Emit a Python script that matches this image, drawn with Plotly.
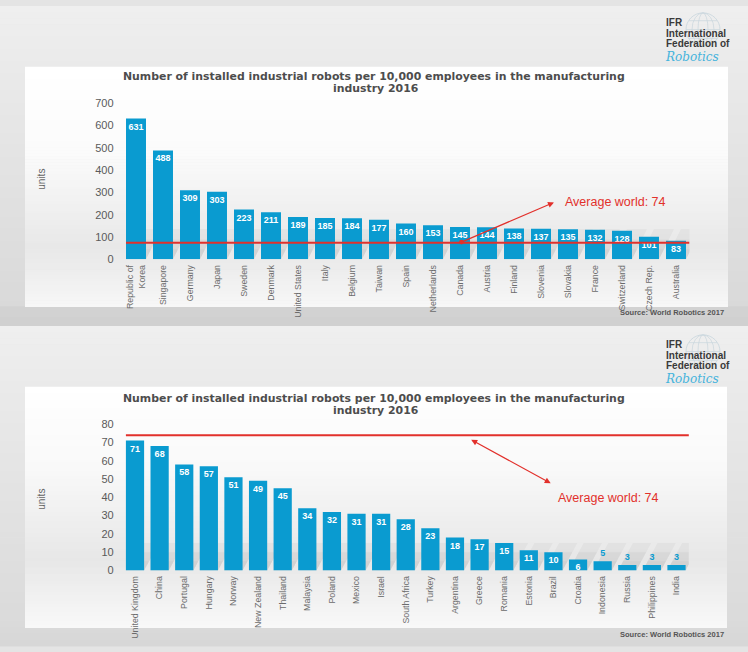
import plotly.graph_objects as go

# ---------------------------------------------------------------- data
top_countries = ["Republic of<br>Korea", "Singapore", "Germany", "Japan", "Sweden", "Denmark",
                 "United States", "Italy", "Belgium", "Taiwan", "Spain", "Netherlands", "Canada",
                 "Austria", "Finland", "Slovenia", "Slovakia", "France", "Switzerland",
                 "Czech Rep.", "Australia"]
top_values = [631, 488, 309, 303, 223, 211, 189, 185, 184, 177, 160, 153, 145, 144, 138, 137,
              135, 132, 128, 101, 83]

bottom_countries = ["United Kingdom", "China", "Portugal", "Hungary", "Norway", "New Zealand",
                    "Thailand", "Malaysia", "Poland", "Mexico", "Israel", "South Africa", "Turkey",
                    "Argentina", "Greece", "Romania", "Estonia", "Brazil", "Croatia", "Indonesia",
                    "Russia", "Philippines", "India"]
bottom_values = [71, 68, 58, 57, 51, 49, 45, 34, 32, 31, 31, 28, 23, 18, 17, 15, 11, 10, 6, 5,
                 3, 3, 3]

world_average = 74

title_line1 = "Number of installed industrial robots per 10,000 employees in the manufacturing"
title_line2 = "industry 2016"
source_note = "Source: World Robotics 2017"
avg_label = f"Average world: {world_average}"
axis_title = "units"

# ---------------------------------------------------------------- style
W, H = 748, 652
BAR = "#0a9bd0"
RED = "#e2302b"
TXT = "#4d4d4d"
SANS = "Liberation Sans, Arial, sans-serif"
WIDE = "DejaVu Sans, Verdana, sans-serif"
NARROW = "Liberation Sans Narrow, Arial Narrow, Liberation Sans, sans-serif"
HALF_BAR = 0.37


def px(x):
    return x / W


def py(y):
    return 1 - y / H


def hex_mix(c0, c1, t):
    a = [int(c0[i:i + 2], 16) for i in (1, 3, 5)]
    b = [int(c1[i:i + 2], 16) for i in (1, 3, 5)]
    return "#" + "".join(f"{round(a[k] + (b[k] - a[k]) * t):02x}" for k in range(3))


shapes = []


def vgrad(x0, x1, stops, step=3):
    """Vertical colour gradient built from thin stacked rectangles (pixel coords)."""
    for (ya, ca), (yb, cb) in zip(stops[:-1], stops[1:]):
        n = max(1, int((yb - ya) / step))
        for i in range(n):
            y0 = ya + (yb - ya) * i / n
            y1 = ya + (yb - ya) * (i + 1) / n
            shapes.append(dict(type="rect", xref="paper", yref="paper",
                               x0=px(x0), x1=px(x1), y0=py(y1 + 0.6), y1=py(y0),
                               fillcolor=hex_mix(ca, cb, (i + 0.5) / n),
                               line=dict(width=0), layer="below"))


# slide backgrounds
vgrad(0, 748, [(0, "#efefef"), (62, "#eaeaea"), (306, "#d9d9d9")], step=6)
vgrad(0, 748, [(306, "#d2d2d2"), (326, "#d0d0d0")], step=10)
vgrad(0, 748, [(326, "#efefef"), (388, "#eaeaea"), (633, "#dadada"), (652, "#d6d6d6")], step=6)
# white chart cards
vgrad(25, 728, [(62, "#ffffff"), (150, "#fbfbfb"), (245, "#e8e8e8"), (265, "#ececec"),
                (306, "#f7f7f7")])
vgrad(25, 727, [(388, "#ffffff"), (470, "#f9f9f9"), (565, "#e7e7e7"), (585, "#ededed"),
                (633, "#f8f8f8")])

# IFR globe emblem
for cx, cy in [(703, 24), (703, 352)]:
    g = "#c8d5dd"
    shapes.append(dict(type="circle", xref="paper", yref="paper", x0=px(cx - 17), x1=px(cx + 17),
                       y0=py(cy + 17), y1=py(cy - 17), line=dict(color=g, width=0.8)))
    for rx in (5, 11):
        shapes.append(dict(type="circle", xref="paper", yref="paper", x0=px(cx - rx),
                           x1=px(cx + rx), y0=py(cy + 17), y1=py(cy - 17),
                           line=dict(color=g, width=0.7)))
    for dy, half in ((-9, 14), (0, 17), (9, 14)):
        shapes.append(dict(type="line", xref="paper", yref="paper", x0=px(cx - half),
                           x1=px(cx + half), y0=py(cy + dy), y1=py(cy + dy),
                           line=dict(color=g, width=0.7)))


def floor_shadows(n, xa, ya, height, shear):
    """Soft slanted shadows cast behind each bar onto the floor."""
    for i in range(n):
        for frac in (1.0, 0.66, 0.33):
            h = height * frac
            d = shear * frac
            x0, x1 = i - HALF_BAR, i + HALF_BAR
            path = f"M {x0},0 L {x1},0 L {x1 + d},{h} L {x0 + d},{h} Z"
            shapes.append(dict(type="path", xref=xa, yref=ya, path=path,
                               fillcolor="rgba(110,110,110,0.06)", line=dict(width=0),
                               layer="below"))


floor_shadows(len(top_values), "x", "y", 135, 0.55)
floor_shadows(len(bottom_values), "x2", "y2", 15, 0.6)

fig = go.Figure()


def add_bars(cats, vals, xa, ya, threshold):
    pos = ["inside" if v >= threshold else "outside" for v in vals]
    col = ["white" if v >= threshold else BAR for v in vals]
    fig.add_trace(go.Bar(
        x=cats, y=vals, xaxis=xa, yaxis=ya,
        marker=dict(color=BAR, line=dict(width=0)),
        text=[str(v) for v in vals], textposition=pos, insidetextanchor="end",
        textangle=0,
        textfont=dict(family=SANS, size=9, color=col, weight="bold"),
        constraintext="none", cliponaxis=False, hoverinfo="x+y", showlegend=False))


add_bars(top_countries, top_values, "x", "y", 6)
add_bars(bottom_countries, bottom_values, "x2", "y2", 6)

# world-average reference lines
shapes.append(dict(type="line", xref="x", yref="y", x0=-HALF_BAR, x1=20.5,
                   y0=world_average, y1=world_average, line=dict(color=RED, width=2),
                   layer="above"))
shapes.append(dict(type="line", xref="x2", yref="y2", x0=-HALF_BAR, x1=22.6,
                   y0=world_average, y1=world_average, line=dict(color=RED, width=2),
                   layer="above"))

xcommon = dict(type="category", showgrid=False, zeroline=False, showline=False, ticks="",
               tickangle=-90, tickfont=dict(family=NARROW, size=8.8, color="#6b6b6b"),
               ticklabelstandoff=3, fixedrange=True)
ycommon = dict(showgrid=False, zeroline=False, showline=False, ticks="",
               tickfont=dict(family=SANS, size=11, color="#5a5a5a"), ticklabelstandoff=8,
               fixedrange=True)

fig.update_layout(
    width=W, height=H, autosize=False,
    margin=dict(l=0, r=0, t=0, b=0),
    paper_bgcolor="#e4e4e4", plot_bgcolor="rgba(0,0,0,0)",
    bargap=0.26,
    xaxis=dict(xcommon, domain=[px(122.5), px(689.5)], anchor="y",
               range=[-0.5, len(top_values) - 0.5]),
    yaxis=dict(ycommon, domain=[py(258), py(99)], range=[0, 700], dtick=100, anchor="x"),
    xaxis2=dict(xcommon, domain=[px(122.7), px(688.8)], anchor="y2",
                range=[-0.5, len(bottom_values) - 0.5]),
    yaxis2=dict(ycommon, domain=[py(575), py(426)], range=[0, 80], dtick=10, anchor="x2"),
    shapes=shapes,
)

ann = []
for t1, t2, src_y, unit_y in [(72, 84, 312, 177), (400, 412, 640, 503)]:
    ann.append(dict(text=f"<b>{title_line1}</b>", xref="paper", yref="paper", x=px(374),
                    y=py(t1), xanchor="center", yanchor="middle", showarrow=False,
                    font=dict(family=WIDE, size=10.9, color=TXT)))
    ann.append(dict(text=f"<b>{title_line2}</b>", xref="paper", yref="paper", x=px(375),
                    y=py(t2), xanchor="center", yanchor="middle", showarrow=False,
                    font=dict(family=WIDE, size=10.9, color=TXT)))
    ann.append(dict(text=f"<b>{source_note}</b>", xref="paper", yref="paper", x=px(726),
                    y=py(src_y), xanchor="right", yanchor="middle", showarrow=False,
                    font=dict(family=SANS, size=7.5, color="#555555")))
    ann.append(dict(text=axis_title, xref="paper", yref="paper", x=px(42), y=py(unit_y),
                    xanchor="center", yanchor="middle", showarrow=False, textangle=-90,
                    font=dict(family=SANS, size=10, color="#666666")))

# IFR logo lettering
for base in (0, 328):
    for txt, yy in [("IFR", 17), ("International", 28), ("Federation of", 38)]:
        ann.append(dict(text=f"<b>{txt}</b>", xref="paper", yref="paper", x=px(664),
                        y=py(base + yy), xanchor="left", yanchor="middle", showarrow=False,
                        font=dict(family=SANS, size=10, color="#3a3a3a")))
    ann.append(dict(text="<i>Robotics</i>", xref="paper", yref="paper", x=px(663),
                    y=py(base + 52), xanchor="left", yanchor="middle", showarrow=False,
                    font=dict(family="DejaVu Serif, serif", size=12, color="#45b3dc")))

# average-world callouts
ann.append(dict(text="", x=15.48, y=255, xref="x", yref="y", ax=12, ay=world_average,
                axref="x", ayref="y", showarrow=True, arrowhead=2, arrowsize=1,
                arrowwidth=1.2, arrowcolor=RED, arrowside="end+start", startarrowhead=6,
                startarrowsize=1))
ann.append(dict(text=avg_label, x=15.8, y=255, xref="x", yref="y", xanchor="left",
                yanchor="middle", showarrow=False,
                font=dict(family=SANS, size=12.5, color=RED)))
ann.append(dict(text="", x=13.66, y=71.5, xref="x2", yref="y2", ax=16.95, ay=47.2,
                axref="x2", ayref="y2", showarrow=True, arrowhead=2, arrowsize=1,
                arrowwidth=1.2, arrowcolor=RED, arrowside="end+start", startarrowhead=2,
                startarrowsize=1))
ann.append(dict(text=avg_label, x=17.1, y=39.7, xref="x2", yref="y2", xanchor="left",
                yanchor="middle", showarrow=False,
                font=dict(family=SANS, size=12.5, color=RED)))

fig.update_layout(annotations=ann)
fig.write_html("out.html", config={"displayModeBar": False})
